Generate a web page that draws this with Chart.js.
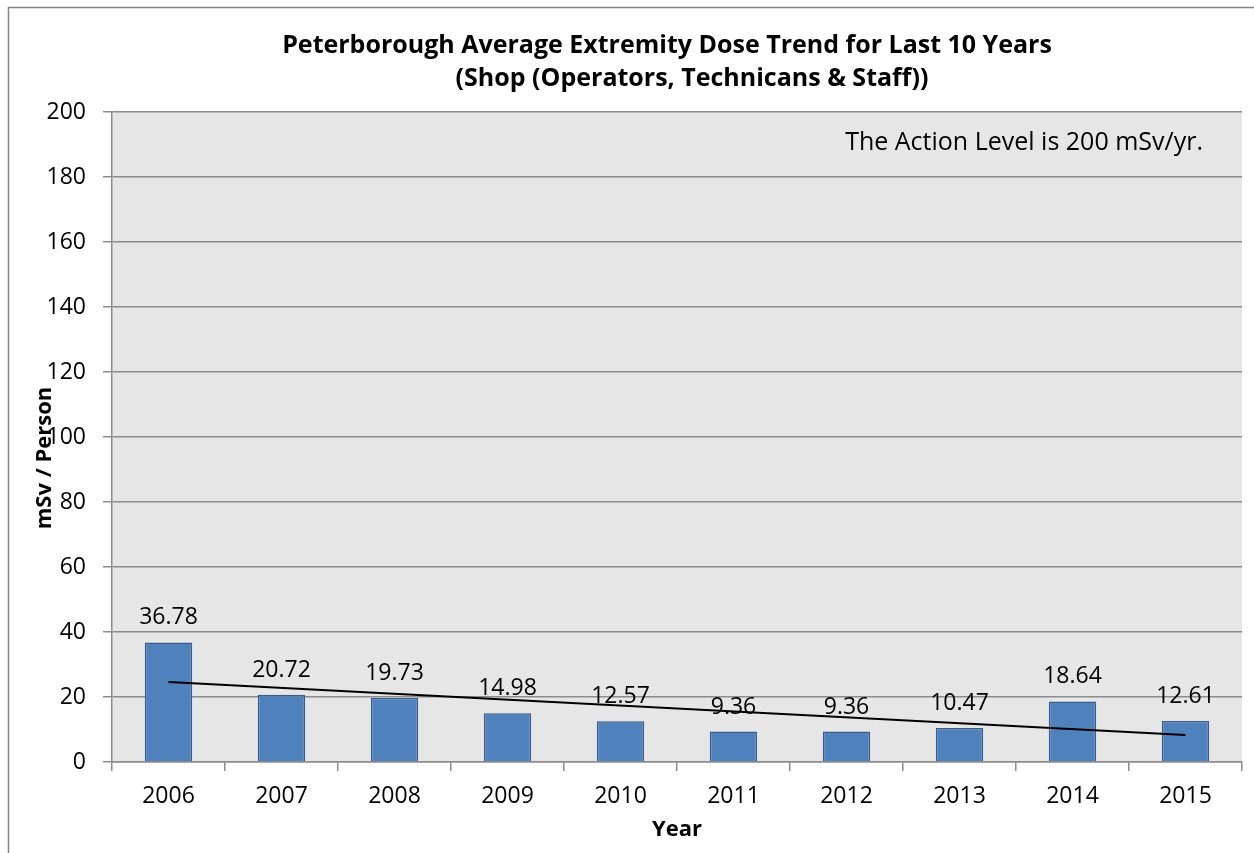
<!DOCTYPE html>
<html>
<head>
<meta charset="utf-8">
<script src="https://cdn.jsdelivr.net/npm/chart.js@4/dist/chart.umd.min.js"></script>
<style>
  body { margin: 0; background: #fff; }
  #wrap { width: 1254px; height: 853px; }
</style>
</head>
<body>
<div id="wrap"><canvas id="myChart" width="1254" height="853"></canvas></div>
<script>
  const years = ['2006', '2007', '2008', '2009', '2010', '2011', '2012', '2013', '2014', '2015'];
  const doses = [36.78, 20.72, 19.73, 14.98, 12.57, 9.36, 9.36, 10.47, 18.64, 12.61];
  // trend line end points as seen on the chart
  const trend = [24.6, null, null, null, null, null, null, null, null, 8.3];
  const yMin = 0, yMax = 200, yStep = 20;

  const titleLines = ['Peterborough Average Extremity Dose Trend for Last 10 Years', '(Shop (Operators, Technicans & Staff))'];
  const note = 'The Action Level is 200 mSv/yr.';
  const FONT = "'Open Sans', sans-serif";
  const GRID = '#8c8c8c';

  Chart.defaults.font.family = FONT;
  Chart.defaults.color = '#000';

  /* frame, plot background and the text Excel puts around the chart */
  const extras = {
    id: 'extras',
    beforeDraw(chart) {
      const ctx = chart.ctx, a = chart.chartArea;
      ctx.save();
      ctx.fillStyle = '#e6e6e6';
      ctx.fillRect(a.left, a.top, a.right - a.left, a.bottom - a.top);
      ctx.strokeStyle = '#868686';
      ctx.lineWidth = 1.5;
      ctx.beginPath();
      ctx.moveTo(8.5, 853);
      ctx.lineTo(8.5, 7.5);
      ctx.lineTo(1254, 7.5);
      ctx.stroke();
      ctx.restore();
    },
    afterDatasetsDraw(chart) {
      const ctx = chart.ctx;
      ctx.save();
      ctx.fillStyle = '#000';
      // value labels
      ctx.font = '23px ' + FONT;
      ctx.textAlign = 'center';
      ctx.textBaseline = 'alphabetic';
      chart.getDatasetMeta(0).data.forEach((bar, i) => {
        ctx.fillText(doses[i].toFixed(2), bar.x, bar.y - 18);
      });
      // title
      ctx.font = 'bold 25px ' + FONT;
      ctx.fillText(titleLines[0], 667, 53);
      ctx.fillText(titleLines[1], 692, 86);
      // note
      ctx.font = '25px ' + FONT;
      ctx.textAlign = 'right';
      ctx.fillText(note, 1203, 150);
      // axis titles
      ctx.textAlign = 'center';
      ctx.font = 'bold 22px ' + FONT;
      ctx.textBaseline = 'middle';
      ctx.fillText('Year', 677, 830);
      ctx.translate(45, 458);
      ctx.rotate(-Math.PI / 2);
      ctx.fillText('mSv / Person', 0, 0);
      ctx.restore();
    }
  };

  const ctx = document.getElementById('myChart').getContext('2d');
  const chart = new Chart(ctx, {
    type: 'bar',
    data: {
      labels: years,
      datasets: [
        {
          label: 'Dose',
          data: doses,
          backgroundColor: '#4f81bd',
          borderColor: '#385d8a',
          borderWidth: 1.5,
          categoryPercentage: 1,
          barPercentage: 0.42,
          order: 1
        },
        {
          type: 'line',
          label: 'Trend',
          data: trend,
          spanGaps: true,
          borderColor: '#000',
          borderWidth: 2,
          pointRadius: 0,
          fill: false,
          order: 0
        }
      ]
    },
    options: {
      responsive: false,
      animation: false,
      layout: { padding: { top: 112, right: 12, left: 0, bottom: 0 } },
      plugins: {
        legend: { display: false },
        title: { display: false },
        tooltip: { enabled: false }
      },
      scales: {
        x: {
          offset: true,
          grid: { display: true, drawOnChartArea: false, offset: true, color: GRID, tickLength: 9, lineWidth: 1.5 },
          border: { display: true, color: GRID, width: 1.5 },
          ticks: { font: { size: 23 }, padding: 12, color: '#000' },
          afterFit(scale) { scale.height = 91; }
        },
        y: {
          min: yMin,
          max: yMax,
          ticks: { stepSize: yStep, font: { size: 23 }, padding: 17, color: '#000' },
          grid: { color: GRID, tickLength: 9, lineWidth: 1.5 },
          border: { display: true, color: GRID, width: 1.5 },
          afterFit(scale) { scale.width = 112; }
        }
      }
    },
    plugins: [extras]
  });
</script>
</body>
</html>
